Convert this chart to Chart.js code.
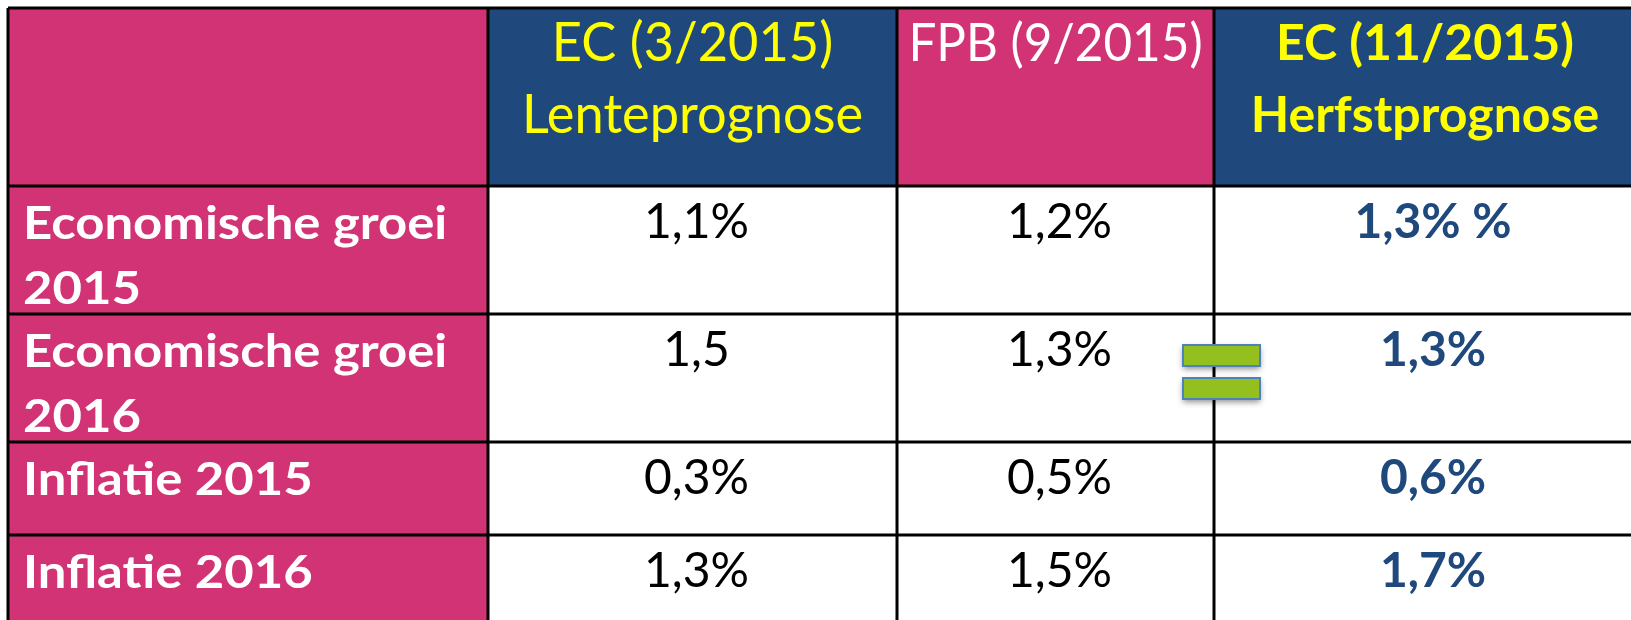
<!DOCTYPE html>
<html>
<head>
<meta charset="utf-8">
<script src="https://cdn.jsdelivr.net/npm/chart.js@4"></script>
<style>
  html, body { margin: 0; padding: 0; background: #fff; overflow: hidden; }
  canvas { display: block; }
</style>
</head>
<body>
<canvas id="tableChart" width="1631" height="620"></canvas>
<script>
/* ── data ── */
const headerLines = [
  ['EC (3/2015)', 'Lenteprognose'],
  ['FPB (9/2015)'],
  ['EC (11/2015)', 'Herfstprognose']
];
const rowLabels = [
  ['Economische groei', '2015'],
  ['Economische groei', '2016'],
  ['Inflatie 2015'],
  ['Inflatie 2016']
];
const ecSpring = ['1,1%', '1,5', '0,3%', '1,3%'];
const fpbSept  = ['1,2%', '1,3%', '0,5%', '1,5%'];
const ecAutumn = ['1,3% %', '1,3%', '0,6%', '1,7%'];
// row where the forecast stayed the same (the "=" sign)
const equalRow = 1;

/* ── layout (scale units = px of the 1631x620 view) ── */
const colEdges = [8, 488, 897, 1214, 1636];
const rowEdges = [8, 186, 314, 442, 535, 628];

const PINK = '#D13374';
const NAVY = '#1F497D';
const YELLOW = '#FFFF00';
const FONT = 'Lato, "Open Sans", sans-serif';

const headerStyle = [
  { bg: PINK, color: '#fff' },
  { bg: NAVY, color: YELLOW, font: '400 54px ' + FONT, scaleX: 0.97 },
  { bg: PINK, color: '#fff', font: '400 52px ' + FONT, scaleX: 0.95 },
  { bg: NAVY, color: YELLOW, font: '700 50px ' + FONT, scaleX: 1.0 }
];

const tablePlugin = {
  id: 'tablePlugin',
  afterDraw(chart) {
    const { ctx, scales: { x, y } } = chart;
    const X = v => x.getPixelForValue(v);
    const Y = v => y.getPixelForValue(v);
    const columns = [null, ecSpring, fpbSept, ecAutumn];

    ctx.save();
    // cell backgrounds
    for (let r = 0; r < rowEdges.length - 1; r++) {
      for (let c = 0; c < colEdges.length - 1; c++) {
        let bg = '#fff';
        if (r === 0) bg = headerStyle[c].bg;
        else if (c === 0) bg = PINK;
        ctx.fillStyle = bg;
        ctx.fillRect(X(colEdges[c]), Y(rowEdges[r]), X(colEdges[c + 1]) - X(colEdges[c]), Y(rowEdges[r + 1]) - Y(rowEdges[r]));
      }
    }

    const drawText = (txt, cx, cy, font, color, align, sx) => {
      ctx.save();
      ctx.font = font;
      ctx.fillStyle = color;
      ctx.textAlign = align;
      ctx.textBaseline = 'middle';
      ctx.translate(cx, cy);
      ctx.scale(sx || 1, 1);
      ctx.fillText(txt, 0, 0);
      ctx.restore();
    };

    // header text
    headerLines.forEach((lines, i) => {
      const st = headerStyle[i + 1];
      const cx = (X(colEdges[i + 1]) + X(colEdges[i + 2])) / 2;
      lines.forEach((ln, k) => {
        drawText(ln, cx, Y(rowEdges[0]) + 36 + k * 72, st.font, st.color, 'center', st.scaleX);
      });
    });

    // body
    for (let r = 0; r < rowLabels.length; r++) {
      const top = Y(rowEdges[r + 1]);
      rowLabels[r].forEach((ln, k) => {
        drawText(ln, X(colEdges[0]) + 15, top + 38 + k * 65, '700 45px ' + FONT, '#fff', 'left', 1.13);
      });
      for (let c = 1; c < columns.length; c++) {
        const cx = (X(colEdges[c]) + X(colEdges[c + 1])) / 2;
        const bold = c === 3;
        drawText(columns[c][r], cx + (bold ? 8 : 4), top + 37,
          (bold ? '700 ' : '400 ') + '48px ' + FONT, bold ? NAVY : '#000', 'center', 1);
      }
    }

    // grid lines
    ctx.strokeStyle = '#000';
    ctx.lineWidth = 3;
    ctx.beginPath();
    rowEdges.forEach(v => { ctx.moveTo(X(colEdges[0]), Y(v)); ctx.lineTo(X(colEdges[colEdges.length - 1]), Y(v)); });
    colEdges.forEach(v => { ctx.moveTo(X(v), Y(rowEdges[0])); ctx.lineTo(X(v), Y(rowEdges[rowEdges.length - 1])); });
    ctx.stroke();

    // green "=" sign on the border between FPB and EC autumn
    const ex = X(colEdges[3]);
    const rt = Y(rowEdges[equalRow + 1]);
    [[31, 52], [64, 85]].forEach(([a, b]) => {
      ctx.save();
      ctx.shadowColor = 'rgba(0,0,0,0.45)';
      ctx.shadowBlur = 6;
      ctx.shadowOffsetY = 3;
      ctx.fillStyle = '#93C01F';
      ctx.fillRect(ex - 31, rt + a, 77, b - a);
      ctx.restore();
      ctx.strokeStyle = '#4F81BD';
      ctx.lineWidth = 2;
      ctx.strokeRect(ex - 31, rt + a, 77, b - a);
    });
    ctx.restore();
  }
};

new Chart(document.getElementById('tableChart'), {
  type: 'scatter',
  data: { datasets: [{ data: [] }] },
  options: {
    responsive: false,
    animation: false,
    events: [],
    layout: { padding: 0 },
    plugins: { legend: { display: false }, tooltip: { enabled: false } },
    scales: {
      x: { type: 'linear', min: 0, max: 1631, display: false },
      y: { type: 'linear', min: 0, max: 620, reverse: true, display: false }
    }
  },
  plugins: [tablePlugin]
});
</script>
</body>
</html>
